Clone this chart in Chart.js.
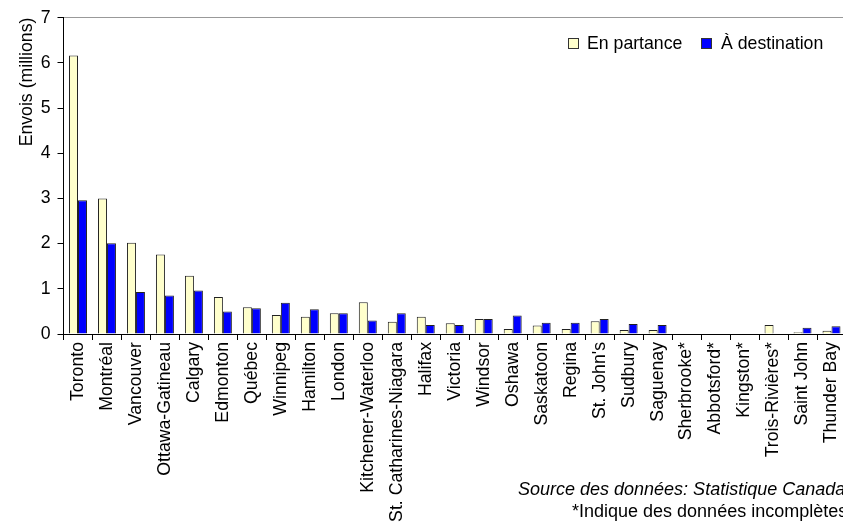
<!DOCTYPE html>
<html>
<head>
<meta charset="utf-8">
<script src="https://cdn.jsdelivr.net/npm/chart.js@4/dist/chart.umd.min.js"></script>
<style>
  html, body { margin: 0; padding: 0; background: #fff; overflow: hidden; }
  #wrap { width: 860px; height: 523px; }
</style>
</head>
<body>
<div id="wrap"><canvas id="chart" width="860" height="523"></canvas></div>
<script>
// cities, ordered as in the source chart
const cities = ['Toronto', 'Montréal', 'Vancouver', 'Ottawa-Gatineau', 'Calgary', 'Edmonton',
    'Québec', 'Winnipeg', 'Hamilton', 'London', 'Kitchener-Waterloo', 'St. Catharines-Niagara',
    'Halifax', 'Victoria', 'Windsor', 'Oshawa', 'Saskatoon', 'Regina', "St. John's", 'Sudbury',
    'Saguenay', 'Sherbrooke*', 'Abbotsford*', 'Kingston*', 'Trois-Rivières*', 'Saint John', 'Thunder Bay'];

// millions of shipments (null = no data)
const enPartance = [6.16, 3.0, 2.02, 1.76, 1.29, 0.82, 0.59, 0.42, 0.38, 0.46, 0.70, 0.27,
    0.38, 0.24, 0.33, 0.11, 0.19, 0.11, 0.28, 0.09, 0.09, null, null, null, 0.20, 0.04, 0.07];
const aDestination = [2.96, 2.01, 0.93, 0.85, 0.96, 0.50, 0.57, 0.69, 0.55, 0.46, 0.30, 0.46,
    0.20, 0.20, 0.33, 0.41, 0.25, 0.25, 0.33, 0.22, 0.20, null, null, null, null, 0.14, 0.17];

const yTicks = [0, 1, 2, 3, 4, 5, 6, 7];
const sourceLines = ['Source des données: Statistique Canada', '*Indique des données incomplètes'];

const FONT = "'Liberation Sans', Arial, sans-serif";
const FS = 17.7;

Chart.defaults.font.family = FONT;
Chart.defaults.font.size = FS;
Chart.defaults.color = '#000';

// legend drawn inside the plot, top right
const boxLegend = {
    id: 'boxLegend',
    afterDraw(chart) {
        const ctx = chart.ctx;
        const items = [{ x: 568, textX: 587 }, { x: 701, textX: 721 }];
        ctx.save();
        ctx.font = FS + 'px ' + FONT;
        ctx.textBaseline = 'middle';
        chart.data.datasets.forEach((ds, i) => {
            const it = items[i];
            ctx.fillStyle = ds.backgroundColor;
            ctx.fillRect(it.x, 38, 11, 11);
            ctx.strokeStyle = '#333';
            ctx.lineWidth = 1;
            ctx.strokeRect(it.x + 0.5, 38.5, 10, 10);
            ctx.fillStyle = '#000';
            ctx.fillText(ds.label, it.textX, 44);
        });
        ctx.restore();
    }
};

const sourceNote = {
    id: 'sourceNote',
    afterDraw(chart) {
        const ctx = chart.ctx;
        ctx.save();
        ctx.fillStyle = '#000';
        ctx.textBaseline = 'alphabetic';
        ctx.font = 'italic 18px ' + FONT;
        ctx.fillText(sourceLines[0], 518, 495);
        ctx.font = '18px ' + FONT;
        ctx.fillText(sourceLines[1], 572, 517);
        ctx.restore();
    }
};

new Chart(document.getElementById('chart'), {
    type: 'bar',
    data: {
        labels: cities,
        datasets: [{
            label: 'En partance',
            data: enPartance,
            backgroundColor: '#FFFFCC',
            borderColor: '#222',
            borderWidth: 1,
            categoryPercentage: 0.62,
            barPercentage: 1.0
        }, {
            label: 'À destination',
            data: aDestination,
            backgroundColor: '#0000FF',
            borderColor: '#222',
            borderWidth: 1,
            categoryPercentage: 0.62,
            barPercentage: 1.0
        }]
    },
    options: {
        responsive: false,
        animation: false,
        layout: { padding: { top: 16, right: 14, bottom: 0, left: 0 } },
        plugins: {
            legend: { display: false },
            tooltip: { enabled: false }
        },
        scales: {
            x: {
                grid: {
                    offset: true,
                    drawOnChartArea: false,
                    color: '#000',
                    tickLength: 6
                },
                border: { color: '#000', width: 1 },
                ticks: {
                    autoSkip: false,
                    minRotation: 90,
                    maxRotation: 90,
                    padding: 2,
                    font: { size: FS }
                },
                afterFit(scale) { scale.height = 189; }
            },
            y: {
                min: 0,
                max: 7,
                afterBuildTicks(scale) { scale.ticks = yTicks.map(v => ({ value: v })); },
                grid: {
                    color: ctx => ctx.tick && ctx.tick.value === 7 ? '#999' : 'rgba(0,0,0,0)',
                    tickColor: '#000',
                    tickLength: 6
                },
                border: { color: '#000', width: 1 },
                ticks: { padding: 7, font: { size: FS } },
                title: {
                    display: true,
                    text: 'Envois (millions)',
                    align: 'end',
                    font: { size: FS },
                    padding: { top: 16, bottom: 0 }
                },
                afterFit(scale) { scale.width = 63.5; }
            }
        }
    },
    plugins: [boxLegend, sourceNote]
});
</script>
</body>
</html>
